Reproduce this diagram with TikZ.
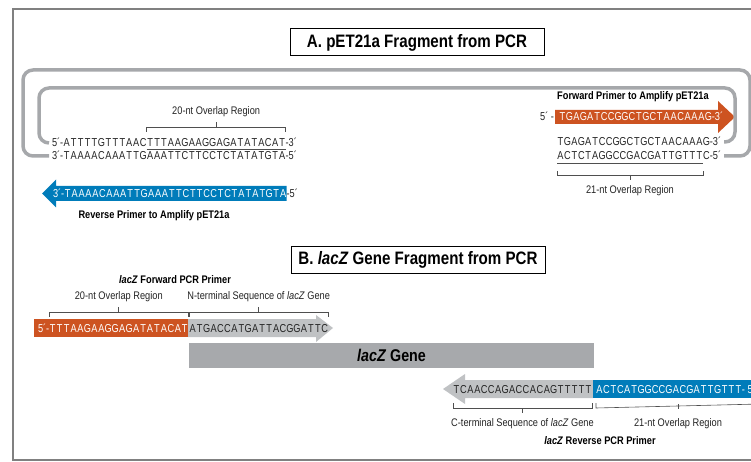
\documentclass[tikz,border=0pt]{standalone}
\usepackage{fontspec}
\setmainfont{Liberation Sans}[FakeStretch=0.84]
\newfontfamily\seqfont{Liberation Sans}[FakeStretch=0.8]
\usetikzlibrary{positioning, backgrounds}
\definecolor{naranja}{RGB}{205,83,33}
\definecolor{azul}{RGB}{0,124,186}
\definecolor{gris}{RGB}{166,168,171}
\definecolor{barra}{RGB}{167,169,172}
\definecolor{grisclaro}{RGB}{192,194,196}
\definecolor{marco}{RGB}{128,128,128}
\definecolor{texto}{RGB}{35,35,35}
% bases de ancho fijo
\newlength\basew
\setlength\basew{6.95pt}
\def\bases#1{\basesi#1\relax}
\def\basesi#1{\ifx#1\relax\else\basesii#1\expandafter\basesi\fi}
\def\basesii#1{\ifcat#1A\makebox[\basew]{#1}\else#1\fi}

\begin{document}
\begin{tikzpicture}[x=1pt, y=-1pt,
    seq/.style={font=\fontsize{11.5}{13}\seqfont, inner sep=0pt, outer sep=0pt,
      text height=8pt, text depth=0pt, text=texto},
    etiqueta/.style={font=\fontsize{11}{13}\selectfont, text=texto, inner sep=0pt},
    negrita/.style={font=\fontsize{11}{13}\selectfont\bfseries, inner sep=0pt},
    titulo/.style={draw, line width=1pt, minimum width=254pt, minimum height=27pt,
      font=\fontsize{18}{20}\selectfont\bfseries},
    gen/.style={fill=barra, minimum width=405pt, minimum height=25pt, inner sep=0pt,
      font=\fontsize{17}{20}\selectfont\bfseries},
    lazo/.style={draw=gris, line width=3.5pt, rounded corners=10pt,
      shorten <=3pt, shorten >=3pt},
    llave/.style={draw=texto!80, line width=0.6pt}]
    			\useasboundingbox (0,0) rectangle (751,462);
    			\draw [marco, line width=1.5pt] (13,9) rectangle (780,460);
    			
    			% titulos
    			\node [titulo] (tA) at (417,42.5) {A. pET21a Fragment from PCR};
    			\node [titulo] (tB) at (418,259.5) {B. \textit{lacZ} Gene Fragment from PCR};
    			
    			% hebras de pET21a, izquierda
    			\node [seq, anchor=west] (lt1) at (52,143) {\bases{5´-ATTTTGTTTAAC}};
    			\node [seq] (lt2) [right=0pt of lt1] {\bases{TTTAAGAAGGAGATATACAT}};
    			\node [seq] (lt3) [right=0pt of lt2] {\bases{-3´}};
    			\node [seq, anchor=west] (lb) at (52,156) {\bases{3´-TAAAACAAATTGAAATTCTTCCTCTATATGTA-5´}};
    			\node [seq, text=white, anchor=west] (rp) at (53,193.5) {\bases{3´-TAAAACAAATTGAAATTCTTCCTCTATATGTA}};
    			\node [seq] (rp5) [right=0pt of rp] {\bases{-5´}};
    			\node [negrita] (rpl) at (154,216) {Reverse Primer to Amplify pET21a};
    			
    			% hebras de pET21a, derecha
    			\node [negrita, anchor=west] (fpl) at (557,97) {Forward Primer to Amplify pET21a};
    			\node [seq, anchor=east] (fp5) at (554,117) {\bases{5´\ -}};
    			\node [seq, text=white, anchor=west] (fp) at (559,117) {\bases{TGAGATCCGGCTGCTAACAAAG-3´}};
    			\node [seq, anchor=west] (rt) at (557,142) {\bases{TGAGATCCGGCTGCTAACAAAG-3´}};
    			\node [seq, anchor=west] (rb1) at (557,156) {\bases{ACTCTAGGCCGACGATTGTTT}};
    			\node [seq] (rb2) [right=0pt of rb1] {\bases{C-5´}};
    			
    			% lazos del plasmido
    			\draw [lazo] (lt1.west) -| (39,88) -- (735,88) |- (rt.east);
    			\draw [lazo] (lb.west) -| (23,70) -- (750,70) |- (rb2.east);
    			
    			% regiones de solapamiento
    			\draw [llave] ([yshift=-2pt]lt2.south west) -- ([yshift=-2pt]lt2.south east);
    			\draw [llave] ([yshift=7pt]lt2.north west) -- ([yshift=12pt]lt2.north west)
    			  -- ([yshift=12pt]lt2.north east) -- ([yshift=7pt]lt2.north east);
    			\draw [llave] ([yshift=12pt]lt2.north) -- ([yshift=17pt]lt2.north);
    			\node [etiqueta] (ovA) at ([yshift=27pt]lt2.north) {20-nt Overlap Region};
    			\draw [llave] ([yshift=-3pt]rb1.south west) -- ([yshift=-3pt]rb1.south east);
    			\draw [llave] ([yshift=-11pt]rb1.south west) -- ([yshift=-15pt]rb1.south west)
    			  -- ([yshift=-15pt]rb1.south east) -- ([yshift=-11pt]rb1.south east);
    			\draw [llave] ([yshift=-15pt]rb1.south) -- ([yshift=-20pt]rb1.south);
    			\node [etiqueta] (ovA2) at ([yshift=-31pt]rb1.south) {21-nt Overlap Region};
    			
    			% cebador directo de lacZ
    			\node [negrita] (fBl) at (175,280) {\textit{lacZ} Forward PCR Primer};
    			\node [seq, text=white, anchor=west] (fB5) at (38,328) {\bases{5´-}};
    			\node [seq, text=white] (fBo) [right=0pt of fB5] {\bases{TTTAAGAAGGAGATATACAT}};
    			\node [seq] (nB) [right=1pt of fBo] {\bases{ATGACCATGATTACGGATTC}};
    			\draw [llave] ([yshift=7pt]fBo.north west) -- ([yshift=12pt]fBo.north west)
    			  -- ([yshift=12pt]fBo.north east) -- ([yshift=7pt]fBo.north east);
    			\draw [llave] ([yshift=12pt]fBo.north) -- ([yshift=17pt]fBo.north);
    			\node [etiqueta] (ovB) at ([yshift=27pt]fBo.north) {20-nt Overlap Region};
    			\draw [llave] ([yshift=7pt]nB.north west) -- ([yshift=12pt]nB.north west)
    			  -- ([yshift=12pt]nB.north east) -- ([yshift=7pt]nB.north east);
    			\draw [llave] ([yshift=12pt]nB.north) -- ([yshift=17pt]nB.north);
    			\node [etiqueta] (ntB) at ([yshift=27pt]nB.north) {N-terminal Sequence of \textit{lacZ} Gene};
    			
    			% gen
    			\node [gen] (gen) at (391.5,355.5) {\textit{lacZ} Gene};
    			
    			% cebador reverso de lacZ
    			\node [seq, anchor=east] (cB) at (592,389) {\bases{TCAACCAGACCACAGTTTTT}};
    			\node [seq, text=white, anchor=west] (rBo) at (596,389) {\bases{ACTCATGGCCGACGATTGTTT}};
    			\node [seq, text=white] (rB5) [right=0pt of rBo] {\bases{-\ 5´}};
    			\draw [llave] ([yshift=-10pt]cB.south west) -- ([yshift=-15pt]cB.south west)
    			  -- ([yshift=-15pt]cB.south east) -- ([yshift=-10pt]cB.south east);
    			\draw [llave] ([yshift=-15pt]cB.south) -- ([yshift=-20pt]cB.south);
    			\node [etiqueta] (ctB) at ([yshift=-31pt]cB.south) {C-terminal Sequence of \textit{lacZ} Gene};
    			\draw [llave] ([yshift=-10pt]rBo.south west) -- ([yshift=-15pt]rBo.south west)
    			  -- (760,404) -- (760,399);
    			\draw [llave] (678,404) -- (678,409);
    			\node [etiqueta] (ovB2) at (678,424) {21-nt Overlap Region};
    			\node [negrita] (rBl) at (600,441) {\textit{lacZ} Reverse PCR Primer};
    			
    			% flechas
    			\begin{scope}[on background layer]
    			\fill [azul] ([yshift=7.5pt]rp.east) -- (56,186) -- (56,179.5) -- (42,193.5)
    			  -- (56,207.5) -- (56,201) -- ([yshift=-7.5pt]rp.east) -- cycle;
    			\fill [naranja] ([xshift=-4pt,yshift=7pt]fp.west) -- (718,110) -- (718,101) -- (735,117)
    			  -- (718,133) -- (718,124) -- ([xshift=-4pt,yshift=-7pt]fp.west) -- cycle;
    			\fill [naranja] (34,319) rectangle ([yshift=-9pt]fBo.east);
    			\fill [grisclaro] ([yshift=9pt]fBo.east) -- (316,319) -- (316,315) -- (333,328)
    			  -- (316,342) -- (316,337) -- ([yshift=-9pt]fBo.east) -- cycle;
    			\fill [grisclaro] ([xshift=-3pt,yshift=9pt]rBo.west) -- (465,380) -- (465,374) -- (443,389)
    			  -- (465,404) -- (465,398) -- ([xshift=-3pt,yshift=-9pt]rBo.west) -- cycle;
    			\fill [azul] ([xshift=-3pt,yshift=9pt]rBo.west) rectangle (770,398);
    			\end{scope}
\end{tikzpicture}
\end{document}
